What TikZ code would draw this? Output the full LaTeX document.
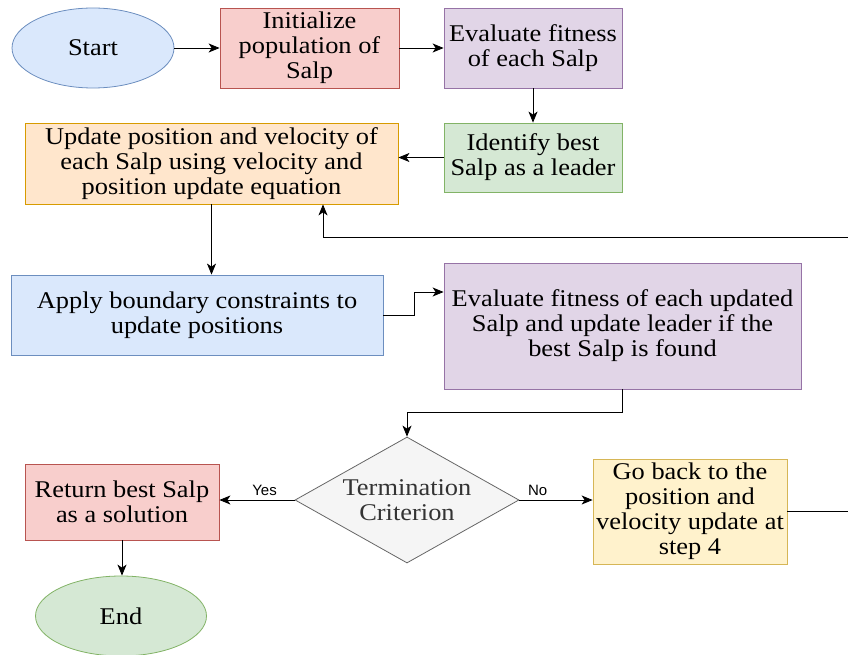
\documentclass[tikz,border=0pt]{standalone}
\usepackage{fontspec}
\setmainfont{Liberation Serif}[FakeStretch=1.1]
\newfontfamily\labelfont{Liberation Sans}
\usetikzlibrary{arrows.meta,shapes.geometric,calc}
\definecolor{blueF}{HTML}{DAE8FC}\definecolor{blueD}{HTML}{6C8EBF}
\definecolor{redF}{HTML}{F8CECC}\definecolor{redD}{HTML}{B85450}
\definecolor{purpF}{HTML}{E1D5E7}\definecolor{purpD}{HTML}{9673A6}
\definecolor{greenF}{HTML}{D5E8D4}\definecolor{greenD}{HTML}{82B366}
\definecolor{orangeF}{HTML}{FFE6CC}\definecolor{orangeD}{HTML}{D79B00}
\definecolor{yellowF}{HTML}{FFF2CC}\definecolor{yellowD}{HTML}{D6B656}
\definecolor{greyF}{HTML}{F5F5F5}\definecolor{greyD}{HTML}{666666}
\definecolor{greyT}{HTML}{333333}
\begin{document}
\begin{tikzpicture}[x=1pt,y=-1pt,
	every node/.style={font=\fontsize{24}{25}\selectfont, align=center, inner sep=0pt, line width=0.8pt},
	box/.style={draw, rectangle},
	oval/.style={draw, ellipse, minimum width=#1, minimum height=80pt},
	flow/.style={draw=black, line width=0.8pt, -{Stealth[length=11pt,width=9pt,inset=3pt]}},
	lbl/.style={font=\labelfont\fontsize{15}{17}\selectfont}]
\useasboundingbox (0,0) rectangle (848,655);
\node[oval=162pt, fill=blueF, draw=blueD] (start) at (93,48) {Start};
\node[box, fill=redF, draw=redD, minimum width=179pt, minimum height=80pt] (init) at (309.5,48) {Initialize\\population of\\Salp};
\node[box, fill=purpF, draw=purpD, minimum width=178pt, minimum height=80pt] (eval) at (533,48) {Evaluate fitness\\of each Salp};
\node[box, fill=greenF, draw=greenD, minimum width=178pt, minimum height=69pt] (best) at (533,157.5) {Identify best\\Salp as a leader};
\node[box, fill=orangeF, draw=orangeD, minimum width=373pt, minimum height=81pt] (update) at (211.5,163.5) {Update position and velocity of\\each Salp using velocity and\\position update equation};
\node[box, fill=blueF, draw=blueD, minimum width=372pt, minimum height=80pt] (apply) at (197,315) {Apply boundary constraints to\\update positions};
\node[box, fill=purpF, draw=purpD, minimum width=357pt, minimum height=126pt] (evalnew) at (622.5,326) {Evaluate fitness of each updated\\Salp and update leader if the\\best Salp is found};
\node[draw=greyD, fill=greyF, text=greyT, diamond, aspect=1.78, minimum width=224pt, minimum height=126pt] (term) at (407,500) {Termination\\Criterion};
\node[box, fill=redF, draw=redD, minimum width=194pt, minimum height=76pt] (ret) at (122,502) {Return best Salp\\as a solution};
\node[oval=171pt, fill=greenF, draw=greenD] (end) at (121,616) {End};
\node[box, fill=yellowF, draw=yellowD, minimum width=194pt, minimum height=105pt] (back) at (690,511.5) {Go back to the\\position and\\velocity update at\\step 4};
\coordinate (turn) at (880,237);
\draw[flow] (start) -- (init);
\draw[flow] (init) -- (eval);
\draw[flow] (eval) -- (best);
\draw[flow] (best) -- (best -| update.east);
\draw[flow] (update.south) -- (update.south |- apply.north);
\draw[flow] (apply.east) -- ++(31,0) |- ([yshift=34pt]evalnew.west);
\draw[flow] (evalnew.south) -- ++(0,23) -| (term.north);
\draw[flow] (term.west) -- (term.west -| ret.east) node[lbl, pos=0.4, above=4pt] {Yes};
\draw[flow] (term.east) -- (term.east -| back.west) node[lbl, pos=0.25, above=4pt] {No};
\draw[flow] (ret.south) -- (ret.south |- end.north);
\draw[flow] (back.east) -| (turn) -| ([xshift=111.5pt]update.south);
\end{tikzpicture}
\end{document}
